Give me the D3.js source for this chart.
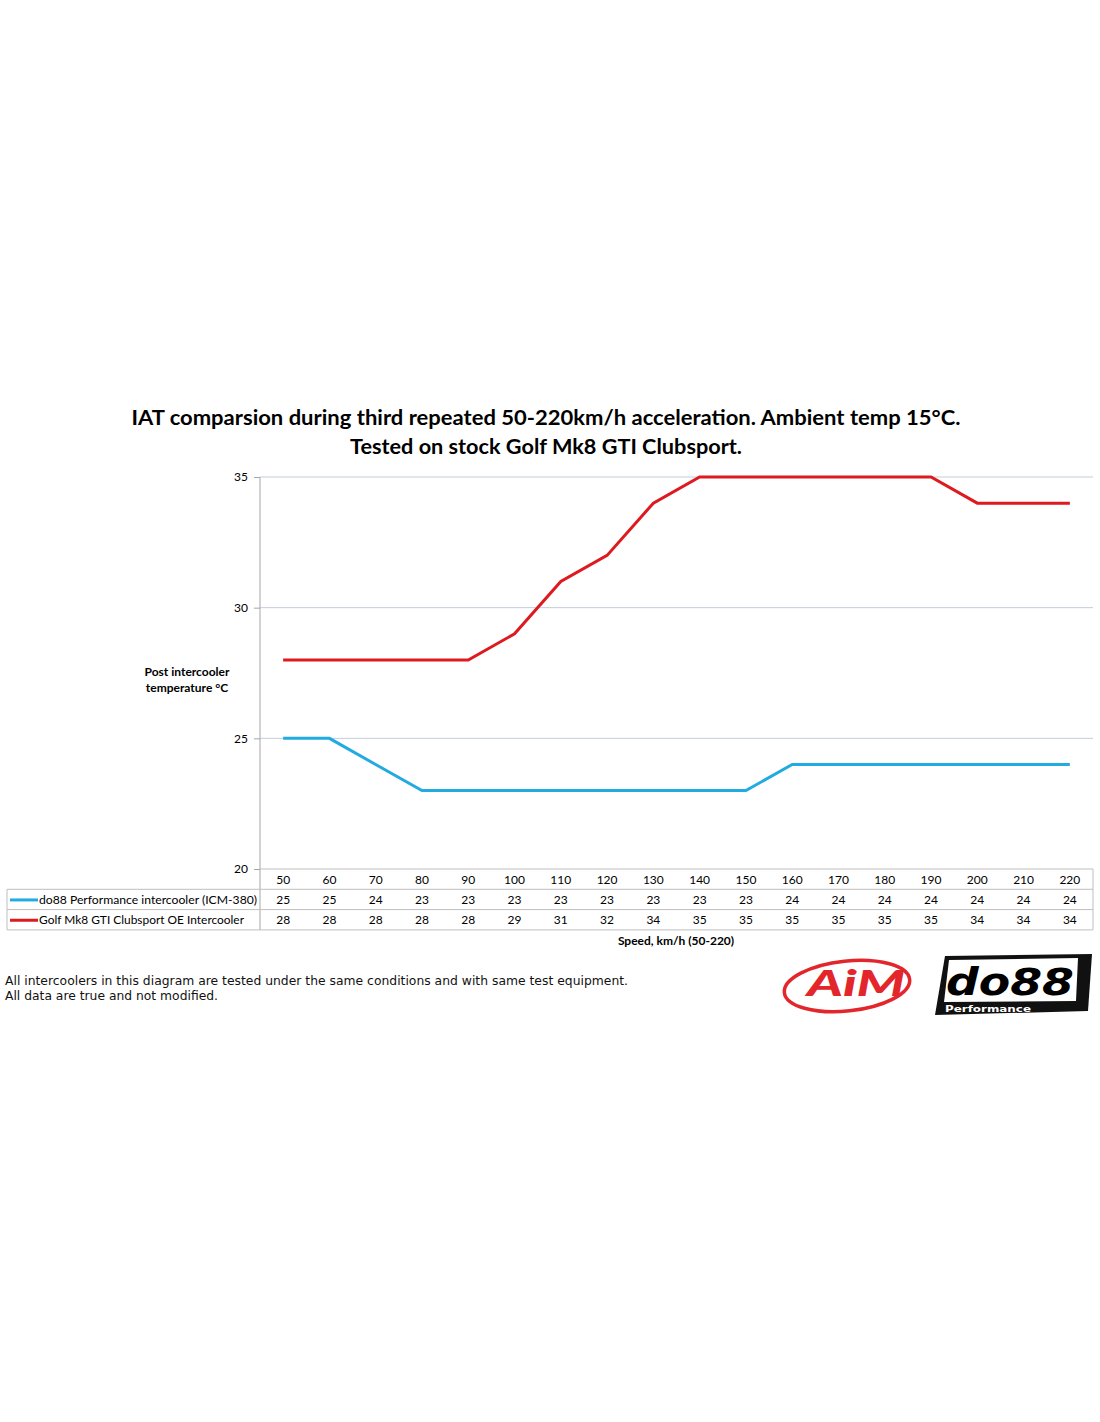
<!DOCTYPE html>
<html>
<head>
<meta charset="utf-8">
<script src="https://cdn.jsdelivr.net/npm/d3@7"></script>
<style>
  body { margin: 0; background: #fff; }
</style>
</head>
<body>
<div id="graphic"></div>
<script>
var speeds = [50, 60, 70, 80, 90, 100, 110, 120, 130, 140, 150, 160, 170, 180, 190, 200, 210, 220];
var do88Temps = [25, 25, 24, 23, 23, 23, 23, 23, 23, 23, 23, 24, 24, 24, 24, 24, 24, 24];
var oemTemps = [28, 28, 28, 28, 28, 29, 31, 32, 34, 35, 35, 35, 35, 35, 35, 34, 34, 34];
var seriesNames = ["do88 Performance intercooler (ICM-380)", "Golf Mk8 GTI Clubsport OE Intercooler"];
var seriesColors = ["#22aae2", "#dd1a1f"];
var yTicks = [20, 25, 30, 35];

function drawChart(){
    var w = 1100, h = 1422;
    var plotLeft = 260, plotRight = 1093, plotTop = 477, plotBottom = 869;
    var rowH = 20.3;
    var sans = "Lato, 'Open Sans', sans-serif";
    var verd = "'DejaVu Sans', Verdana, sans-serif";

    var svg = d3.select("#graphic")
        .append("svg")
        .attr("width", w)
        .attr("height", h)
        .style("font-family", sans);

    var xScale = d3.scaleBand()
        .domain(speeds)
        .range([plotLeft, plotRight]);
    var yScale = d3.scaleLinear()
        .domain([20, 35])
        .range([plotBottom, plotTop]);
    var xMid = function(s){ return xScale(s) + xScale.bandwidth() / 2; };

    // title
    svg.append("text")
        .attr("x", 546).attr("y", 425)
        .attr("text-anchor", "middle")
        .attr("font-size", 21).attr("font-weight", "bold")
        .attr("textLength", 829).attr("lengthAdjust", "spacingAndGlyphs")
        .text("IAT comparsion during third repeated 50-220km/h acceleration. Ambient temp 15°C.");
    svg.append("text")
        .attr("x", 546).attr("y", 454)
        .attr("text-anchor", "middle")
        .attr("font-size", 21).attr("font-weight", "bold")
        .attr("textLength", 392).attr("lengthAdjust", "spacingAndGlyphs")
        .text("Tested on stock Golf Mk8 GTI Clubsport.");

    // gridlines
    svg.selectAll("line.grid")
        .data(yTicks.slice(1))
        .enter()
        .append("line")
        .attr("class", "grid")
        .attr("x1", plotLeft).attr("x2", plotRight)
        .attr("y1", function(d){ return yScale(d); })
        .attr("y2", function(d){ return yScale(d); })
        .attr("stroke", "#c3cddd").attr("stroke-width", 1);

    // y axis
    var yAxis = svg.append("g")
        .attr("transform", "translate(" + plotLeft + ",0)")
        .call(d3.axisLeft(yScale).tickValues(yTicks).tickSize(6).tickPadding(6));
    yAxis.select(".domain").remove();
    yAxis.selectAll("line").attr("stroke", "#a6a6a6");
    yAxis.selectAll("text")
        .attr("font-size", 12)
        .attr("font-family", sans)
        .attr("fill", "#000");

    svg.append("line")
        .attr("x1", plotLeft).attr("x2", plotLeft)
        .attr("y1", plotTop).attr("y2", plotBottom + rowH * 3)
        .attr("stroke", "#a6a6a6");

    // y axis title
    svg.append("text")
        .attr("x", 187).attr("y", 676)
        .attr("text-anchor", "middle")
        .attr("font-size", 12).attr("font-weight", "bold")
        .text("Post intercooler");
    svg.append("text")
        .attr("x", 187).attr("y", 692)
        .attr("text-anchor", "middle")
        .attr("font-size", 12).attr("font-weight", "bold")
        .text("temperature °C");

    // lines
    var line = d3.line()
        .x(function(d, i){ return xMid(speeds[i]); })
        .y(function(d){ return yScale(d); });

    [do88Temps, oemTemps].forEach(function(series, k){
        svg.append("path")
            .datum(series)
            .attr("d", line)
            .attr("fill", "none")
            .attr("stroke", seriesColors[k])
            .attr("stroke-width", 3);
    });

    // data table
    var tableColor = "#bfbfbf";
    svg.append("line")
        .attr("x1", plotLeft).attr("x2", plotRight)
        .attr("y1", plotBottom).attr("y2", plotBottom)
        .attr("stroke", tableColor);
    [1, 2, 3].forEach(function(r){
        svg.append("line")
            .attr("x1", 7).attr("x2", plotRight)
            .attr("y1", plotBottom + rowH * r).attr("y2", plotBottom + rowH * r)
            .attr("stroke", tableColor);
    });
    svg.append("line")
        .attr("x1", plotRight).attr("x2", plotRight)
        .attr("y1", plotBottom).attr("y2", plotBottom + rowH * 3)
        .attr("stroke", tableColor);
    svg.append("line")
        .attr("x1", 7).attr("x2", 7)
        .attr("y1", plotBottom + rowH).attr("y2", plotBottom + rowH * 3)
        .attr("stroke", tableColor);

    svg.selectAll("text.head")
        .data(speeds)
        .enter()
        .append("text")
        .attr("class", "head")
        .attr("x", xMid)
        .attr("y", plotBottom + rowH / 2 + 4.5)
        .attr("text-anchor", "middle")
        .attr("font-size", 12)
        .text(function(d){ return d; });

    [do88Temps, oemTemps].forEach(function(series, k){
        var yRow = plotBottom + rowH * (k + 1) + rowH / 2 + 4.5;
        svg.selectAll("text.row" + k)
            .data(series)
            .enter()
            .append("text")
            .attr("class", "row" + k)
            .attr("x", function(d, i){ return xMid(speeds[i]); })
            .attr("y", yRow)
            .attr("text-anchor", "middle")
            .attr("font-size", 12)
            .text(function(d){ return d; });
        svg.append("line")
            .attr("x1", 10).attr("x2", 38)
            .attr("y1", yRow - 4).attr("y2", yRow - 4)
            .attr("stroke", seriesColors[k]).attr("stroke-width", 3);
        svg.append("text")
            .attr("x", 39).attr("y", yRow)
            .attr("font-size", 12)
            .attr("lengthAdjust", "spacingAndGlyphs")
            .attr("textLength", k == 0 ? 218 : 205)
            .text(seriesNames[k]);
    });

    // x axis title
    svg.append("text")
        .attr("x", 676).attr("y", 945)
        .attr("text-anchor", "middle")
        .attr("font-size", 12).attr("font-weight", "bold")
        .text("Speed, km/h (50-220)");

    // footnote
    var foot = ["All intercoolers in this diagram are tested under the same conditions and with same test equipment.",
                "All data are true and not modified."];
    var footLen = [623, 213];
    svg.selectAll("text.foot")
        .data(foot)
        .enter()
        .append("text")
        .attr("class", "foot")
        .attr("x", 5)
        .attr("y", function(d, i){ return 985 + i * 15; })
        .style("font-family", verd)
        .attr("font-size", 11.5)
        .attr("fill", "#111")
        .attr("lengthAdjust", "spacingAndGlyphs")
        .attr("textLength", function(d, i){ return footLen[i]; })
        .text(function(d){ return d; });

    // AiM logo
    var aim = svg.append("g");
    aim.append("ellipse")
        .attr("cx", 847).attr("cy", 986)
        .attr("rx", 63).attr("ry", 25)
        .attr("transform", "rotate(-6,847,986)")
        .attr("fill", "none").attr("stroke", "#e3262b").attr("stroke-width", 3.5);
    aim.append("text")
        .attr("x", 856).attr("y", 996)
        .attr("text-anchor", "middle")
        .attr("font-size", 36).attr("font-weight", 900).attr("font-style", "italic")
        .style("fill", "#e3262b")
        .attr("textLength", 98).attr("lengthAdjust", "spacingAndGlyphs")
        .text("AiM");

    // do88 logo
    var logo = svg.append("g");
    logo.append("polygon")
        .attr("points", "945,956 1092,954 1088,1011 935,1015")
        .attr("fill", "#111");
    logo.append("polygon")
        .attr("points", "949,960 1078,958 1076,1001 944,1002")
        .attr("fill", "#fff");
    logo.append("text")
        .attr("x", 1010).attr("y", 995)
        .attr("text-anchor", "middle")
        .attr("font-size", 37).attr("font-weight", 900).attr("font-style", "italic")
        .style("font-family", verd)
        .attr("textLength", 128).attr("lengthAdjust", "spacingAndGlyphs")
        .text("do88");
    logo.append("text")
        .attr("x", 945).attr("y", 1011.5)
        .attr("font-size", 9).attr("font-weight", "bold")
        .style("font-family", verd)
        .style("fill", "#fff")
        .attr("textLength", 86).attr("lengthAdjust", "spacingAndGlyphs")
        .text("Performance");
}

drawChart();
</script>
</body>
</html>
